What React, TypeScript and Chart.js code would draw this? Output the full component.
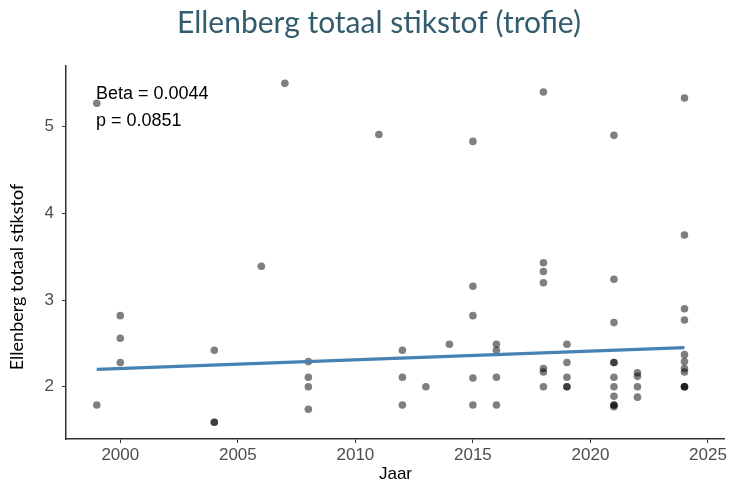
import React, { useEffect, useRef } from "react";
import { Chart, registerables } from "chart.js";

Chart.register(...registerables);

const titleText = "Ellenberg totaal stikstof (trofie)";
const xAxisTitle = "Jaar";
const yAxisTitle = "Ellenberg totaal stikstof";
const annotationLines = ["Beta = 0.0044", "p = 0.0851"];

const xTicks = [2000, 2005, 2010, 2015, 2020, 2025];
const yTicks = [2, 3, 4, 5];

const pointYears = [
  1999, 1999,
  2000, 2000, 2000,
  2004, 2004, 2004,
  2006,
  2007,
  2008, 2008, 2008, 2008,
  2011,
  2012, 2012, 2012,
  2013,
  2014,
  2015, 2015, 2015, 2015, 2015,
  2016, 2016, 2016, 2016,
  2018, 2018, 2018, 2018, 2018, 2018, 2018,
  2019, 2019, 2019, 2019, 2019,
  2021, 2021, 2021, 2021, 2021, 2021, 2021, 2021, 2021, 2021, 2021,
  2022, 2022, 2022, 2022,
  2024, 2024, 2024, 2024, 2024, 2024, 2024, 2024, 2024, 2024, 2024,
];
const pointValues = [
  5.27, 1.79,
  2.82, 2.56, 2.28,
  2.42, 1.59, 1.59,
  3.39,
  5.5,
  2.29, 2.11, 2.0, 1.74,
  4.91,
  2.42, 2.11, 1.79,
  2.0,
  2.49,
  4.83, 3.16, 2.82, 2.1, 1.79,
  2.49, 2.42, 2.11, 1.79,
  5.4, 3.43, 3.33, 3.2, 2.21, 2.17, 2.0,
  2.49, 2.28, 2.11, 2.0, 2.0,
  4.9, 3.24, 2.74, 2.28, 2.28, 2.11, 2.0, 1.89, 1.79, 1.77, 1.79,
  2.16, 2.12, 2.0, 1.88,
  5.33, 3.75, 2.9, 2.77, 2.37, 2.29, 2.21, 2.17, 2.0, 2.0, 2.0,
];

const trendYears = [1999, 2024];
const trendValues = [2.2, 2.45];

const xMin = 1997.69;
const xMax = 2025.72;
const yMin = 1.397;
const yMax = 5.7;

export default function App() {
  const ref = useRef<HTMLCanvasElement | null>(null);

  useEffect(() => {
    if (!ref.current) return;
    const overlay = {
      id: "overlay",
      afterDraw(chart: any) {
        const ctx = chart.ctx;
        ctx.save();
        ctx.fillStyle = "#335d6e";
        ctx.font = "30px Lato";
        ctx.textAlign = "center";
        ctx.textBaseline = "alphabetic";
        ctx.fillText(titleText, 379, 33);
        ctx.fillStyle = "#000000";
        ctx.font = "18px 'Liberation Sans'";
        ctx.textAlign = "left";
        ctx.fillText(annotationLines[0], 96, 99);
        ctx.fillText(annotationLines[1], 96, 126);
        ctx.translate(17, 277);
        ctx.rotate(-Math.PI / 2);
        ctx.font = "18px Lato";
        ctx.textAlign = "center";
        ctx.textBaseline = "middle";
        ctx.fillText(yAxisTitle, 0, 0);
        ctx.restore();
      },
    };

    const chart = new Chart(ref.current, {
      type: "scatter",
      data: {
        datasets: [
          {
            type: "line",
            data: trendYears.map((x, i) => ({ x, y: trendValues[i] })),
            borderColor: "#4682b4",
            borderWidth: 3.2,
            pointRadius: 0,
            fill: false,
          } as any,
          {
            type: "scatter",
            data: pointYears.map((x, i) => ({ x, y: pointValues[i] })),
            backgroundColor: "rgba(0,0,0,0.5)",
            borderWidth: 0,
            pointRadius: 3.8,
          },
        ],
      },
      options: {
        animation: false,
        responsive: false,
        devicePixelRatio: 1,
        layout: { padding: { top: 66, right: 2, left: 0, bottom: 0 } },
        plugins: { legend: { display: false }, tooltip: { enabled: false } },
        scales: {
          x: {
            type: "linear",
            min: xMin,
            max: xMax,
            afterBuildTicks: (s: any) => {
              s.ticks = xTicks.map((v) => ({ value: v }));
            },
            afterFit: (s: any) => {
              s.height = 46;
            },
            grid: { drawOnChartArea: false, drawTicks: true, tickLength: 4, color: "#333333", lineWidth: 1 },
            border: { display: true, color: "#333333", width: 1.5 },
            ticks: {
              color: "#4d4d4d",
              font: { family: "'Liberation Sans'", size: 17 },
              padding: 2,
              maxRotation: 0,
              autoSkip: false,
              callback: (v: any) => String(v),
            },
            title: {
              display: true,
              text: xAxisTitle,
              color: "#000000",
              font: { family: "'Liberation Sans'", size: 17 },
              padding: { top: 0, bottom: 0 },
            },
          },
          y: {
            type: "linear",
            min: yMin,
            max: yMax,
            afterBuildTicks: (s: any) => {
              s.ticks = yTicks.map((v) => ({ value: v }));
            },
            afterFit: (s: any) => {
              s.width = 66;
            },
            grid: { drawOnChartArea: false, drawTicks: true, tickLength: 4, color: "#333333", lineWidth: 1 },
            border: { display: true, color: "#333333", width: 1.5 },
            ticks: {
              color: "#4d4d4d",
              font: { family: "'Liberation Sans'", size: 17 },
              padding: 8,
              callback: (v: any) => String(v),
            },
            title: { display: false },
          },
        },
      },
      plugins: [overlay],
    } as any);
    return () => chart.destroy();
  }, []);

  return (
    <div style={{ position: "absolute", left: 0, top: 0, width: 729, height: 485, background: "#fff" }}>
      <canvas ref={ref} width={729} height={485} style={{ width: 729, height: 485, display: "block" }} />
    </div>
  );
}
